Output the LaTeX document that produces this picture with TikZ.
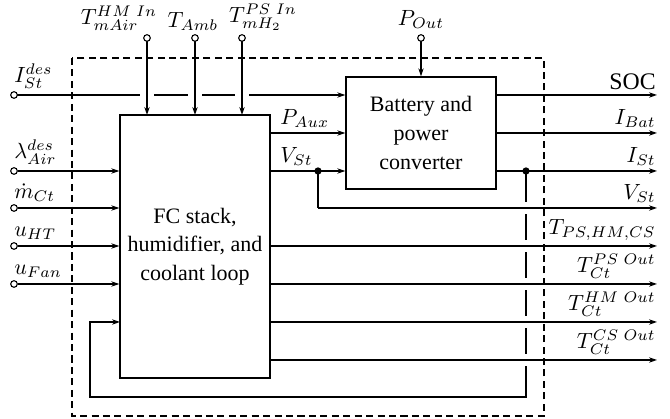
\documentclass[tikz,border=0pt]{standalone}
\usepackage{fontspec}
\setmainfont{Liberation Serif}
\usetikzlibrary{arrows.meta,calc}
\begin{document}
\begin{tikzpicture}[x=0.4545pt,y=-0.4545pt, line width=0.6pt,
  >={Stealth[length=3.6pt,width=2.4pt]},
  term/.style={circle, draw, fill=white, inner sep=0pt, minimum size=3pt, line width=0.5pt},
  dotnode/.style={circle, fill=black, inner sep=0pt, minimum size=3.3pt},
  block/.style={draw, align=center, inner sep=0pt, font=\fontsize{10}{13}\selectfont},
  lbl/.style={inner sep=0.3pt, font=\fontsize{10}{12}\selectfont},
  gapline/.style={draw=white, line width=3.6pt},
  frame/.style={dash pattern=on 3.2pt off 2pt, line width=0.6pt}]
\useasboundingbox (0,0) rectangle (670,419);

% blocks
\node[block, minimum width=68.2pt, minimum height=119.5pt] (fc) at (195,246.5) {FC stack,\\ humidifier, and\\ coolant loop};
\node[block, minimum width=68.2pt, minimum height=50.9pt] (bat) at (421,133) {Battery and\\ power\\ converter};

% coordinates
\coordinate (oSOC) at (657,95);
\coordinate (oIBat) at (657,133);
\coordinate (oISt) at (657,171);
\coordinate (oVSt) at (657,208);
\coordinate (oT1) at (657,246);
\coordinate (oT2) at (657,284);
\coordinate (oT3) at (657,322);
\coordinate (oT4) at (657,360);
\coordinate (dv) at (318,171);
\coordinate (di) at (526,171);
\coordinate (fbc) at (526,397);
\coordinate (fbl) at (90,397);
\coordinate (fbi) at (120,322);
\coordinate (fco) at (270,360);

% I_St^des line with gaps
\draw[->] (14,95) -- (bat.west |- oSOC);
\draw[gapline] (140,95) -- (154,95);
\draw[gapline] (188,95) -- (202,95);
\draw[gapline] (235,95) -- (249,95);

% terminals
\node[term] (iin) at (14,95) {};
\node[term] (lam) at (14,171) {};
\node[term] (mct) at (14,208) {};
\node[term] (uht) at (14,246) {};
\node[term] (ufan) at (14,284) {};

% top inputs
\draw[->] (147,38) -- (147,115);
\draw[->] (195,38) -- (195,115);
\draw[->] (242,38) -- (242,115);
\draw[->] (421,38) -- (bat.north);
\node[term] (thm) at (147,38) {};
\node[term] (tamb) at (195,38) {};
\node[term] (tps) at (242,38) {};
\node[term] (pout) at (421,38) {};

% left inputs
\draw[->] (lam) -- (lam -| fc.west);
\draw[->] (mct) -- (mct -| fc.west);
\draw[->] (uht) -- (uht -| fc.west);
\draw[->] (ufan) -- (ufan -| fc.west);

% FC to battery
\draw[->] (fc.east |- bat.west) -- (bat.west);
\draw[->] (fc.east |- dv) -- (bat.west |- dv);

% battery outputs
\draw[->] (bat.east |- oSOC) -- (oSOC);
\draw[->] (bat.east |- oIBat) -- (oIBat);
\draw[->] (bat.east |- oISt) -- (oISt);

% feedback loop
\draw[->] (di) -- (fbc) -- (fbl) -- (fbl |- fbi) -- (fbi);
\draw (dv) -- (dv |- oVSt);

% gaps in the vertical line
\draw[gapline] (526,202) -- (526,214);
\draw[gapline] (526,240) -- (526,252);
\draw[gapline] (526,278) -- (526,290);
\draw[gapline] (526,316) -- (526,328);
\draw[gapline] (526,354) -- (526,366);

% FC outputs
\draw[->] (dv |- oVSt) -- (oVSt);
\draw[->] (fc.east |- oT1) -- (oT1);
\draw[->] (fc.east |- oT2) -- (oT2);
\draw[->] (fc.east |- oT3) -- (oT3);
\draw[->] (fco) -- (oT4);

% dots
\node[dotnode] (dvdot) at (dv) {};
\node[dotnode] (didot) at (di) {};

% dashed frame
\draw[frame] (72,58) rectangle (544,416);

% labels left
\node[lbl, anchor=south west] (l1) at (13,90) {$I_{St}^{des}$};
\node[lbl, anchor=south west] (l2) at (13,166) {$\lambda_{Air}^{des}$};
\node[lbl, anchor=south west] (l3) at (13,203) {$\dot m_{Ct}$};
\node[lbl, anchor=south west] (l4) at (13,241) {$u_{HT}$};
\node[lbl, anchor=south west] (l5) at (13,279) {$u_{Fan}$};
% labels top
\node[lbl, anchor=south] (t1) at (119,32) {$T_{mAir}^{HM\ In}$};
\node[lbl, anchor=south] (t2) at (193,32) {$T_{Amb}$};
\node[lbl, anchor=south] (t3) at (263,32) {$T_{mH_2}^{PS\ In}$};
\node[lbl, anchor=south] (t4) at (421,30) {$P_{Out}$};
% labels middle
\node[lbl, anchor=south west] (m1) at (279,129) {$P_{Aux}$};
\node[lbl, anchor=south west] (m2) at (279,167) {$V_{St}$};
% labels right
\node[lbl, anchor=south east, font=\fontsize{10.8}{12}\selectfont] (r1) at (657,91) {SOC};
\node[lbl, anchor=south east] (r2) at (657,129) {$I_{Bat}$};
\node[lbl, anchor=south east] (r3) at (657,167) {$I_{St}$};
\node[lbl, anchor=south east] (r4) at (657,204) {$V_{St}$};
\node[lbl, anchor=south east] (r5) at (657,242) {$T_{PS,HM,CS}$};
\node[lbl, anchor=south east] (r6) at (657,280) {$T_{Ct}^{PS\ Out}$};
\node[lbl, anchor=south east] (r7) at (657,318) {$T_{Ct}^{HM\ Out}$};
\node[lbl, anchor=south east] (r8) at (657,356) {$T_{Ct}^{CS\ Out}$};
\end{tikzpicture}
\end{document}
